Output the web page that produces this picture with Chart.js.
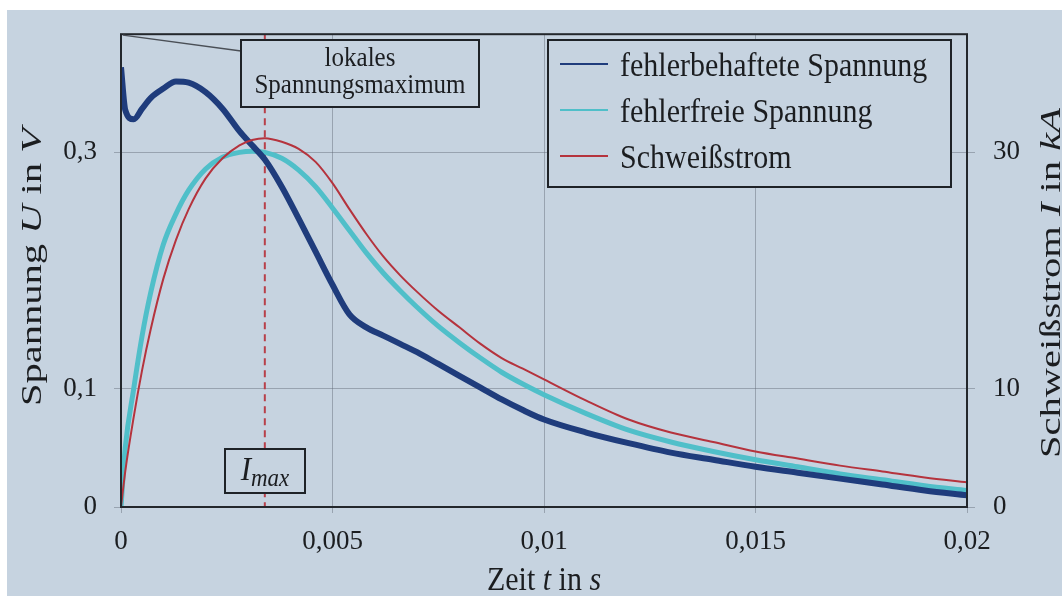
<!DOCTYPE html>
<html lang="de">
<head>
<meta charset="utf-8">
<title>Spannung und Schweißstrom</title>
<script src="https://cdn.jsdelivr.net/npm/chart.js@4.4.1/dist/chart.umd.min.js"></script>
<style>
  html, body { margin: 0; padding: 0; background: #fff; }
  canvas { display: block; }
</style>
</head>
<body>
<canvas id="myChart" width="1062" height="596"></canvas>
<script>
// Zeit in s
var zeit = [0, 0.0001, 0.0003, 0.0005, 0.0007, 0.001, 0.0013, 0.0016, 0.002, 0.0024,
  0.0028, 0.0031, 0.0034, 0.0038, 0.0042, 0.0046, 0.005, 0.0054, 0.0058, 0.0062,
  0.0066, 0.007, 0.0075, 0.008, 0.0085, 0.009, 0.0095, 0.01, 0.011, 0.012,
  0.013, 0.014, 0.015, 0.016, 0.017, 0.018, 0.019, 0.02];

// Spannung in V
var fehlerbehaftet = [0.372, 0.336, 0.328, 0.337, 0.346, 0.354, 0.360, 0.359, 0.351, 0.337,
  0.318, 0.306, 0.294, 0.271, 0.244, 0.216, 0.188, 0.163, 0.152, 0.145,
  0.138, 0.131, 0.121, 0.111, 0.101, 0.091, 0.082, 0.074, 0.063, 0.054,
  0.046, 0.040, 0.034, 0.029, 0.024, 0.019, 0.014, 0.010];
var fehlerfrei = [0, 0.050, 0.100, 0.145, 0.181, 0.222, 0.248, 0.268, 0.286, 0.296,
  0.300, 0.301, 0.300, 0.295, 0.285, 0.271, 0.253, 0.234, 0.215, 0.198,
  0.183, 0.169, 0.153, 0.139, 0.126, 0.114, 0.104, 0.095, 0.079, 0.065,
  0.055, 0.047, 0.040, 0.034, 0.028, 0.023, 0.018, 0.014];

// Schweißstrom in kA
var strom = [0, 3.0, 7.6, 11.6, 15.0, 19.3, 22.6, 25.2, 27.8, 29.5,
  30.6, 31.05, 31.2, 30.9, 30.3, 29.2, 27.4, 25.2, 23.1, 21.2,
  19.6, 18.2, 16.6, 15.2, 13.8, 12.6, 11.7, 10.8, 9.0, 7.4,
  6.3, 5.5, 4.7, 4.1, 3.5, 3.0, 2.5, 2.1];

var zeitTicks = [0, 0.005, 0.01, 0.015, 0.02];
var spannungTicks = [0, 0.1, 0.3];
var stromTicks = [0, 10, 30];

var serif = "'Liberation Serif', 'Times New Roman', serif";
var papier = "#c6d3e0";
var tinte = "#1b1d20";
var gitter = "rgba(95, 105, 118, 0.45)";

function punkte(werte) {
  return zeit.map(function (t, i) { return { x: t, y: werte[i] }; });
}

function komma(v) {
  return String(v).replace(".", ",");
}

// Text aus Teilen (normal / kursiv), optional gedreht und gestreckt
function schreibe(ctx, teile, x, y, size, opts) {
  opts = opts || {};
  ctx.save();
  ctx.translate(x, y);
  if (opts.rot) ctx.rotate(opts.rot);
  ctx.scale(opts.sx || 1, opts.sy || 1);
  var breite = 0;
  teile.forEach(function (t) {
    ctx.font = (t[1] ? "italic " : "") + (t[2] || size) + "px " + serif;
    breite += ctx.measureText(t[0]).width;
  });
  var pos = opts.align === "center" ? -breite / 2 : 0;
  ctx.fillStyle = tinte;
  ctx.textAlign = "left";
  ctx.textBaseline = "alphabetic";
  teile.forEach(function (t) {
    ctx.font = (t[1] ? "italic " : "") + (t[2] || size) + "px " + serif;
    ctx.fillText(t[0], pos, (opts.dy || 0) + (t[3] || 0));
    pos += ctx.measureText(t[0]).width;
  });
  ctx.restore();
}

function kasten(ctx, x, y, w, h) {
  ctx.save();
  ctx.fillStyle = papier;
  ctx.fillRect(x, y, w, h);
  ctx.strokeStyle = "#1e2227";
  ctx.lineWidth = 2;
  ctx.strokeRect(x, y, w, h);
  ctx.restore();
}

var beschriftung = {
  id: "beschriftung",
  beforeDraw: function (chart) {
    var ctx = chart.ctx;
    ctx.save();
    ctx.fillStyle = "#ffffff";
    ctx.fillRect(0, 0, chart.width, chart.height);
    ctx.fillStyle = papier;
    ctx.fillRect(7, 10, chart.width - 7, chart.height - 10);
    ctx.restore();
  },
  beforeDatasetsDraw: function (chart) {
    // gestrichelte Linie beim Strommaximum
    var ctx = chart.ctx, a = chart.chartArea;
    var iMax = strom.indexOf(Math.max.apply(null, strom));
    var px = chart.scales.x.getPixelForValue(zeit[iMax]);
    ctx.save();
    ctx.strokeStyle = "#b8404a";
    ctx.lineWidth = 2;
    ctx.setLineDash([7, 5]);
    ctx.beginPath();
    ctx.moveTo(px, a.top);
    ctx.lineTo(px, a.bottom);
    ctx.stroke();
    ctx.restore();
  },
  afterDatasetsDraw: function (chart) {
    var ctx = chart.ctx, a = chart.chartArea;

    // Rahmen
    ctx.save();
    ctx.strokeStyle = "#23272c";
    ctx.lineWidth = 2;
    ctx.strokeRect(a.left, a.top, a.right - a.left, a.bottom - a.top);
    ctx.restore();

    // Hinweis lokales Spannungsmaximum
    var zx = chart.scales.x.getPixelForValue(0);
    var zy = chart.scales.y.getPixelForValue(0.4);
    ctx.save();
    ctx.strokeStyle = "#4a4f56";
    ctx.lineWidth = 1.3;
    ctx.beginPath();
    ctx.moveTo(zx + 2, zy + 1);
    ctx.lineTo(241, 51);
    ctx.stroke();
    ctx.restore();
    kasten(ctx, 241, 40, 238, 67);
    schreibe(ctx, [["lokales", false]], 360, 66, 25, { align: "center", sy: 1.12 });
    schreibe(ctx, [["Spannungsmaximum", false]], 360, 93, 25, { align: "center", sy: 1.12 });

    // I_max
    kasten(ctx, 225, 449, 80, 44);
    schreibe(ctx, [["I", true, 31], ["max", true, 23, 5]], 265, 480, 31, { align: "center", sy: 1.1 });

    // Legende
    kasten(ctx, 548, 40, 403, 147);
    chart.data.datasets.forEach(function (ds, i) {
      var ly = 64 + i * 46;
      ctx.save();
      ctx.strokeStyle = ds.borderColor;
      ctx.lineWidth = 2;
      ctx.beginPath();
      ctx.moveTo(560, ly);
      ctx.lineTo(608, ly);
      ctx.stroke();
      ctx.restore();
      schreibe(ctx, [[ds.label, false]], 620, ly + 12, 30, { sy: 1.1 });
    });

    // Achsentitel
    schreibe(ctx, [["Spannung ", false], ["U", true], [" in ", false], ["V", true]],
      31, 267, 30, { rot: -Math.PI / 2, sx: 1.35, align: "center", dy: 10 });
    schreibe(ctx, [["Schweißstrom ", false], ["I", true], [" in ", false], ["kA", true]],
      1050, 283, 30, { rot: -Math.PI / 2, sx: 1.35, align: "center", dy: 10 });
    schreibe(ctx, [["Zeit ", false], ["t", true], [" in ", false], ["s", true]],
      (a.left + a.right) / 2, 590, 30, { align: "center", sy: 1.15 });
  }
};

var tickFont = { family: serif, size: 27 };

var ctx = document.getElementById("myChart").getContext("2d");
var chart = new Chart(ctx, {
  type: "line",
  data: {
    datasets: [
      {
        label: "fehlerbehaftete Spannung",
        data: punkte(fehlerbehaftet),
        borderColor: "#1f3c7c",
        borderWidth: 6,
        pointRadius: 0,
        cubicInterpolationMode: "monotone",
        yAxisID: "y",
        order: 2
      },
      {
        label: "fehlerfreie Spannung",
        data: punkte(fehlerfrei),
        borderColor: "#50bfc9",
        borderWidth: 5,
        pointRadius: 0,
        cubicInterpolationMode: "monotone",
        yAxisID: "y",
        order: 3
      },
      {
        label: "Schweißstrom",
        data: punkte(strom),
        borderColor: "#b5333d",
        borderWidth: 2,
        pointRadius: 0,
        cubicInterpolationMode: "monotone",
        yAxisID: "y1",
        order: 1
      }
    ]
  },
  options: {
    responsive: false,
    animation: false,
    layout: { padding: { top: 27, left: 0, right: 0, bottom: 0 } },
    plugins: { legend: { display: false }, tooltip: { enabled: false } },
    scales: {
      x: {
        type: "linear",
        min: 0,
        max: 0.02,
        afterBuildTicks: function (s) { s.ticks = zeitTicks.map(function (v) { return { value: v }; }); },
        afterFit: function (s) { s.height = 89; },
        border: { display: false },
        grid: { color: gitter, tickColor: gitter, tickLength: 6, lineWidth: 1 },
        ticks: { font: tickFont, color: tinte, padding: 13, maxRotation: 0, callback: komma }
      },
      y: {
        position: "left",
        min: 0,
        max: 0.4,
        afterBuildTicks: function (s) { s.ticks = spannungTicks.map(function (v) { return { value: v }; }); },
        afterFit: function (s) { s.width = 121; },
        border: { display: false },
        grid: { color: gitter, tickColor: gitter, tickLength: 7, lineWidth: 1 },
        ticks: { font: tickFont, color: tinte, padding: 17, callback: komma }
      },
      y1: {
        position: "right",
        min: 0,
        max: 40,
        afterBuildTicks: function (s) { s.ticks = stromTicks.map(function (v) { return { value: v }; }); },
        afterFit: function (s) { s.width = 95; },
        border: { display: false },
        grid: { drawOnChartArea: false, tickColor: gitter, tickLength: 8, lineWidth: 1 },
        ticks: { font: tickFont, color: tinte, padding: 18 }
      }
    }
  },
  plugins: [beschriftung]
});
</script>
</body>
</html>
